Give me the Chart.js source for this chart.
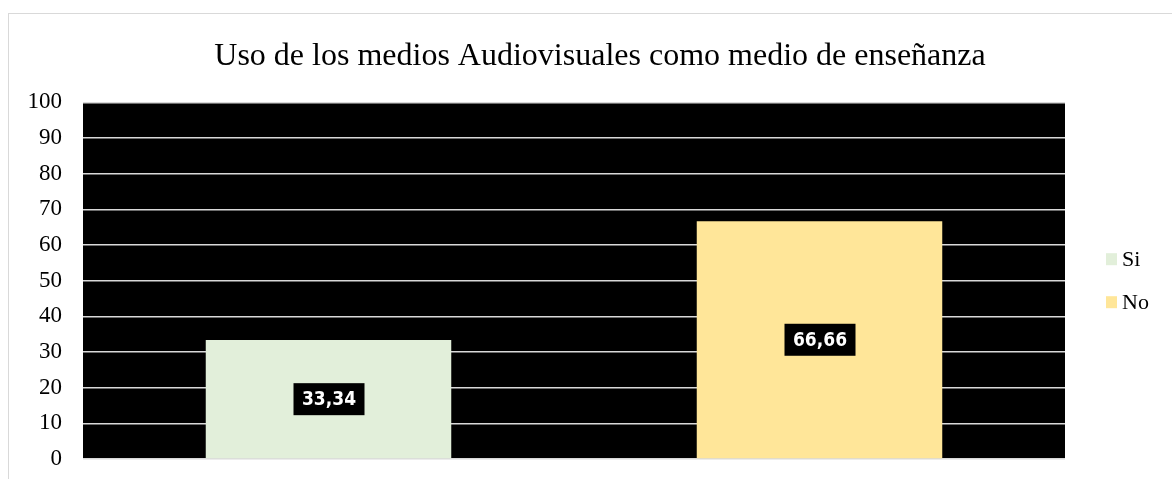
<!DOCTYPE html>
<html>
<head>
<meta charset="utf-8">
<script src="https://cdn.jsdelivr.net/npm/chart.js@4.4.0/dist/chart.umd.min.js"></script>
<style>
  html, body { margin: 0; padding: 0; background: #fff; overflow: hidden; }
  #frame { position: absolute; left: 8px; top: 13px; width: 1300px; height: 600px; border: 1px solid #d9d9d9; }
  #wrap { position: absolute; left: 0; top: 0; width: 1172px; height: 479px; }
</style>
</head>
<body>
<div id="frame"></div>
<div id="wrap"><canvas id="chart" width="1172" height="479"></canvas></div>
<script>
const categories = ['Si', 'No'];
const values = [33.34, 66.66];
const colors = ['#E2EFDA', '#FFE699'];
const yTicks = [0, 10, 20, 30, 40, 50, 60, 70, 80, 90, 100];

const serif = '"Liberation Serif", "Times New Roman", serif';

// black plot area
const plotBg = {
    id: 'plotBg',
    beforeDraw(chart) {
        const a = chart.chartArea;
        const c = chart.ctx;
        c.save();
        c.fillStyle = '#000';
        c.fillRect(a.left, a.top, a.right - a.left, a.bottom - a.top);
        c.restore();
    }
};

// value labels in a black box
const valueLabels = {
    id: 'valueLabels',
    afterDatasetsDraw(chart) {
        const c = chart.ctx;
        c.save();
        c.font = 'bold 19px "DejaVu Sans Condensed", "Liberation Sans Narrow", sans-serif';
        c.textAlign = 'center';
        c.textBaseline = 'middle';
        chart.data.datasets.forEach((ds, i) => {
            chart.getDatasetMeta(i).data.forEach((bar, j) => {
                const v = ds.data[j];
                if (v == null) return;
                const txt = v.toFixed(2).replace('.', ',');
                const x = bar.x;
                const y = (bar.y + bar.base) / 2;
                c.fillStyle = '#000';
                c.fillRect(x - 35, y - 16, 71, 32);
                c.fillStyle = '#fff';
                c.fillText(txt, x + 0.5, y + 1);
            });
        });
        c.restore();
    }
};

// legend at the right, centred on the plot area
const sideLegend = {
    id: 'sideLegend',
    afterDraw(chart) {
        const a = chart.chartArea;
        const c = chart.ctx;
        const step = 43;
        const n = chart.data.datasets.length;
        let y = (a.top + a.bottom) / 2 - step * (n - 1) / 2;
        c.save();
        c.font = '22px ' + serif;
        c.textBaseline = 'middle';
        c.textAlign = 'left';
        chart.data.datasets.forEach(ds => {
            c.fillStyle = ds.backgroundColor;
            c.fillRect(a.right + 41, y - 6, 11, 12);
            c.fillStyle = '#000';
            c.fillText(ds.label, a.right + 57, y + 1);
            y += step;
        });
        c.restore();
    }
};

const datasets = categories.map((cat, i) => ({
    label: cat,
    data: values.map((v, j) => (j === i ? v : null)),
    backgroundColor: colors[i],
    borderWidth: 0
}));

const ctx = document.getElementById('chart').getContext('2d');
const chart = new Chart(ctx, {
    type: 'bar',
    data: { labels: categories, datasets: datasets },
    options: {
        responsive: false,
        animation: false,
        grouped: false,
        barPercentage: 0.5,
        categoryPercentage: 1,
        layout: { padding: { left: 28, right: 0, top: 0, bottom: 20 } },
        plugins: {
            title: {
                display: true,
                text: 'Uso de los medios Audiovisuales como medio de enseñanza',
                color: '#000',
                font: { family: serif, size: 32, weight: 'normal' },
                padding: { top: 37, bottom: 27 }
            },
            legend: { display: false },
            tooltip: { enabled: false }
        },
        scales: {
            x: { display: false },
            y: {
                min: 0,
                max: 100,
                afterBuildTicks(scale) {
                    scale.ticks = yTicks.map(v => ({ value: v }));
                },
                afterFit(scale) {
                    scale.width = 55;
                    scale.paddingTop = 0;
                    scale.paddingBottom = 0;
                },
                ticks: {
                    color: '#000',
                    padding: 21,
                    font: { family: serif, size: 23 }
                },
                grid: { color: '#d9d9d9', lineWidth: 1.5, drawTicks: false },
                border: { display: false }
            },
            legendSpace: {
                type: 'linear',
                position: 'right',
                ticks: { display: false },
                grid: { display: false },
                border: { display: false },
                afterFit(scale) {
                    scale.width = 107;
                }
            }
        }
    },
    plugins: [plotBg, valueLabels, sideLegend]
});
</script>
</body>
</html>
